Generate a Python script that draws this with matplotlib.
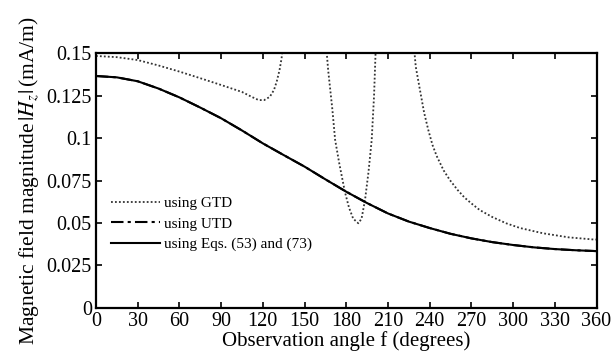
import matplotlib
matplotlib.use('Agg')
from matplotlib import pyplot as plt

plt.rcParams.update({'font.family': 'Liberation Serif', 'mathtext.fontset': 'stix',
                     'font.size': 14.5})

# Data
angle_eq = [0, 15, 30, 45, 60, 75, 90, 105, 120, 135, 150, 165, 180, 195, 210, 225,
            240, 255, 270, 285, 300, 315, 330, 345, 360]
h_eq = [0.1366, 0.1358, 0.1335, 0.1292, 0.1240, 0.1180, 0.1117, 0.1045, 0.0969,
        0.0900, 0.0832, 0.0757, 0.0684, 0.0617, 0.0556, 0.0508, 0.0470, 0.0436,
        0.0409, 0.0387, 0.0370, 0.0356, 0.0346, 0.0339, 0.0334]

angle_gtd = [0, 15, 30, 45, 60, 75, 90, 105, 112, 117, 121, 125, 128, 130, 132,
             133.5, 135,
             165, 167, 170, 172, 175, 179, 182, 185, 188.7, 191, 193.5, 196, 198.3,
             200, 201.5,
             228, 230, 233, 236, 239, 242, 245, 250, 254.5, 260, 265, 270, 276, 285,
             295, 305, 321.5, 340, 357, 360]
h_gtd = [0.1484, 0.1477, 0.1460, 0.1428, 0.1392, 0.1353, 0.1313, 0.1272, 0.1243,
         0.1224, 0.1224, 0.1243, 0.1283, 0.1333, 0.1400, 0.1470, 0.1600,
         0.1600, 0.1400, 0.1170, 0.0990, 0.0850, 0.0684, 0.0590, 0.0525, 0.0498,
         0.0525, 0.0635, 0.0800, 0.0989, 0.1250, 0.1600,
         0.1600, 0.1420, 0.1284, 0.1150, 0.1048, 0.0960, 0.0895, 0.0810, 0.0753,
         0.0695, 0.0650, 0.0615, 0.0576, 0.0535, 0.0498, 0.0470, 0.0439, 0.0415,
         0.0403, 0.0402]

angle_utd = angle_eq
h_utd = h_eq

xticks = list(range(0, 361, 30))
yticks = [0, 0.025, 0.05, 0.075, 0.1, 0.125, 0.15]
ytick_labels = ['0', '0.025', '0.05', '0.075', '0.1', '0.125', '0.15']

fig, ax = plt.subplots(figsize=(6.15, 3.55), dpi=100)
fig.subplots_adjust(left=0.156, right=0.970, top=0.850, bottom=0.133)

ax.plot(angle_gtd, h_gtd, color='#333333', linestyle=(0, (1, 1.2)), linewidth=1.3,
        label='using GTD')
ax.plot(angle_utd, h_utd, color='black', linestyle=(0, (6, 2, 1.5, 2)), linewidth=1.5,
        label='using UTD')
ax.plot(angle_eq, h_eq, color='black', linewidth=1.5, label='using Eqs. (53) and (73)')

ax.set_xlim(0, 360)
ax.set_ylim(0, 0.15)
ax.set_xticks(xticks)
ax.set_yticks(yticks)
ax.set_yticklabels(ytick_labels)
ax.tick_params(direction='in', top=True, right=True, length=4, width=1.2, pad=3)
for s in ax.spines.values():
    s.set_linewidth(1.6)

ax.set_xlabel('Observation angle f (degrees)', fontsize=15, labelpad=0)
ax.set_ylabel(r'Magnetic field magnitude$\,|H_z|\,$(mA/m)', fontsize=15.5, labelpad=4)

ax.legend(loc='upper left', bbox_to_anchor=(0.008, 0.48), frameon=False, fontsize=11,
          handlelength=3.2, handletextpad=0.3, labelspacing=0.45, borderaxespad=0.3)

plt.savefig('out.png', dpi=100)
